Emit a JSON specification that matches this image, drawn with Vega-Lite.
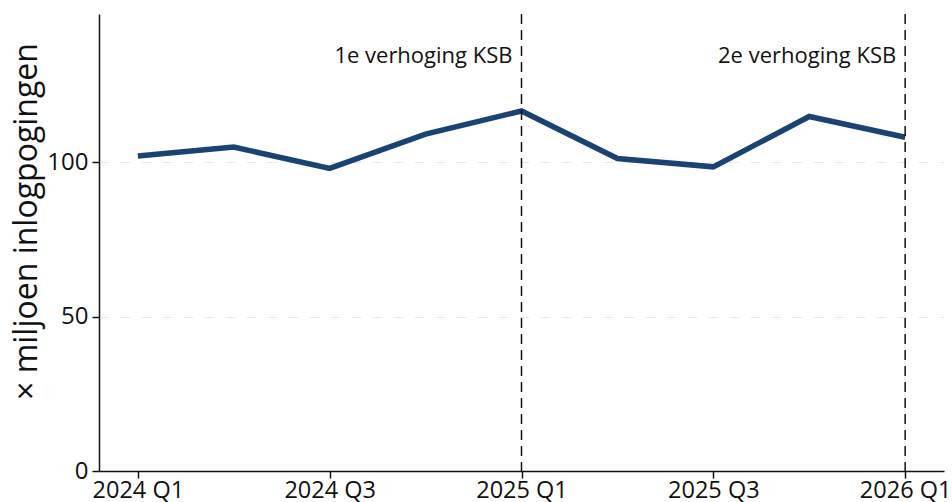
{
  "$schema": "https://vega.github.io/schema/vega-lite/v6.json",
  "autosize": {"type": "none"},
  "padding": {"left": 99, "top": 14, "right": 8, "bottom": 31},
  "width": 845,
  "height": 457,
  "background": "white",
  "config": {
    "view": {"stroke": null},
    "font": "Open Sans"
  },
  "datasets": {
    "series": [
      {"kwartaal": "2024 Q1", "waarde": 102.0},
      {"kwartaal": "2024 Q2", "waarde": 104.9},
      {"kwartaal": "2024 Q3", "waarde": 98.0},
      {"kwartaal": "2024 Q4", "waarde": 109.1},
      {"kwartaal": "2025 Q1", "waarde": 116.6},
      {"kwartaal": "2025 Q2", "waarde": 101.2},
      {"kwartaal": "2025 Q3", "waarde": 98.5},
      {"kwartaal": "2025 Q4", "waarde": 114.8},
      {"kwartaal": "2026 Q1", "waarde": 108.1}
    ],
    "events": [
      {"kwartaal": "2025 Q1", "label": "1e verhoging KSB"},
      {"kwartaal": "2026 Q1", "label": "2e verhoging KSB"}
    ]
  },
  "layer": [
    {
      "data": {"name": "series"},
      "mark": {"type": "line", "color": "#1a4272", "strokeWidth": 5.5, "strokeJoin": "miter", "strokeCap": "butt"},
      "encoding": {
        "x": {
          "field": "kwartaal", "type": "ordinal",
          "sort": null,
          "scale": {"type": "point", "padding": 0.405},
          "axis": {
            "title": null,
            "values": ["2024 Q1", "2024 Q3", "2025 Q1", "2025 Q3", "2026 Q1"],
            "labelAngle": 0,
            "labelFontSize": 23.5,
            "labelColor": "#111111",
            "labelPadding": 0,
            "tickSize": 7,
            "tickColor": "#111111",
            "tickWidth": 1.5,
            "domainColor": "#111111",
            "domainWidth": 1.5,
            "grid": false,
            "labelOverlap": false
          }
        },
        "y": {
          "field": "waarde", "type": "quantitative",
          "scale": {"domain": [0, 148], "nice": false, "zero": true},
          "axis": {
            "title": "× miljoen inlogpogingen",
            "titleFontSize": 32,
            "titleFontWeight": "normal",
            "titleColor": "#111111",
            "titlePadding": 3,
            "titleY": 207,
            "values": [0, 50, 100],
            "labelFontSize": 24,
            "labelColor": "#111111",
            "labelPadding": 4,
            "tickSize": 7,
            "tickColor": "#111111",
            "tickWidth": 1.5,
            "domainColor": "#111111",
            "domainWidth": 1.5,
            "grid": true,
            "gridColor": "#e8e8e8",
            "gridDash": [10, 11],
            "gridWidth": 1
          }
        }
      }
    },
    {
      "data": {"name": "events"},
      "mark": {"type": "rule", "color": "#111111", "strokeWidth": 1.5, "strokeDash": [10, 6]},
      "encoding": {
        "x": {"field": "kwartaal", "type": "ordinal", "sort": null}
      }
    },
    {
      "data": {"name": "events"},
      "mark": {"type": "text", "align": "right", "baseline": "middle", "dx": -9, "fontSize": 22, "color": "#111111"},
      "encoding": {
        "x": {"field": "kwartaal", "type": "ordinal", "sort": null},
        "y": {"datum": 134.5, "type": "quantitative"},
        "text": {"field": "label"}
      }
    }
  ]
}
